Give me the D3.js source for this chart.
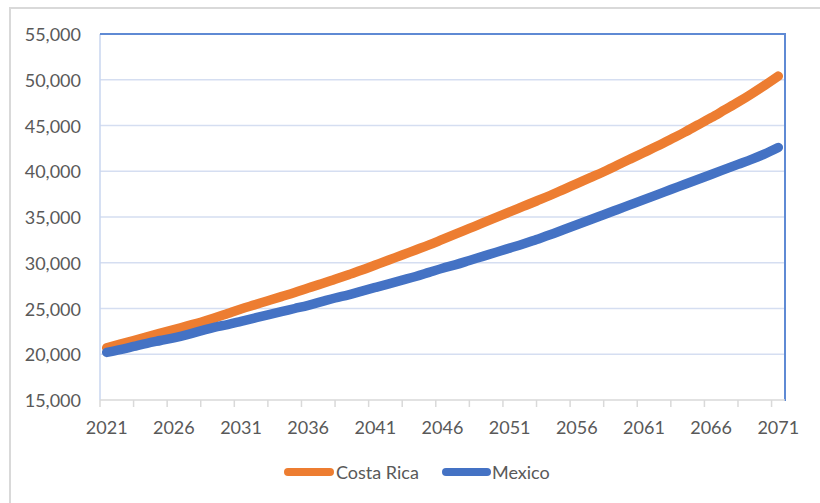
<!DOCTYPE html>
<html>
<head>
<meta charset="utf-8">
<script src="https://cdn.jsdelivr.net/npm/d3@7"></script>
<style>
  html, body { margin: 0; padding: 0; background: #ffffff; }
  svg { display: block; }
  text { font-family: Lato, "Open Sans", "Liberation Sans", sans-serif; fill: #595959; }
</style>
</head>
<body>
<svg id="chart" width="820" height="503"></svg>
<script>
// ---- data ----
const years = d3.range(2021, 2072);
const costaRica = [
  20700, 21100, 21500, 21900, 22300, 22700, 23100, 23500, 23950, 24450,
  24950, 25400, 25850, 26300, 26750, 27250, 27700, 28200, 28700, 29200,
  29750, 30300, 30850, 31400, 31950, 32550, 33150, 33750, 34350, 34950,
  35550, 36150, 36750, 37350, 38000, 38650, 39300, 39950, 40650, 41350,
  42050, 42750, 43500, 44250, 45050, 45850, 46700, 47550, 48450, 49400,
  50400
];
const mexico = [
  20200, 20500, 20850, 21200, 21500, 21800, 22150, 22550, 22950, 23250,
  23600, 23950, 24300, 24650, 25000, 25350, 25750, 26150, 26500, 26900,
  27300, 27700, 28100, 28500, 28950, 29400, 29800, 30250, 30700, 31150,
  31600, 32050, 32550, 33050, 33600, 34150, 34700, 35250, 35800, 36350,
  36900, 37450, 38000, 38550, 39100, 39650, 40200, 40750, 41300, 41900,
  42600
];
const yTicks = [15000, 20000, 25000, 30000, 35000, 40000, 45000, 50000, 55000];
const xLabelYears = [2021, 2026, 2031, 2036, 2041, 2046, 2051, 2056, 2061, 2066, 2071];
const seriesNames = ["Costa Rica", "Mexico"];
const seriesColors = ["#ED7D31", "#4472C4"];

// ---- layout ----
const pLeft = 100, pRight = 785, pTop = 34, pBottom = 400;
const svg = d3.select("#chart");

// outer chart border
svg.append("rect")
  .attr("x", 10).attr("y", 8).attr("width", 830).attr("height", 520)
  .attr("fill", "#fff").attr("stroke", "#d9d9d9").attr("stroke-width", 2);

const x = d3.scaleBand().domain(years).range([pLeft, pRight]).paddingInner(0).paddingOuter(0);
const bw = x.bandwidth();
const xc = d => x(d) + bw / 2;
const y = d3.scaleLinear().domain([15000, 55000]).range([pBottom, pTop]);

// gridlines
svg.append("g").selectAll("line")
  .data(yTicks.filter(t => t > 15000 && t < 55000))
  .join("line")
  .attr("x1", pLeft).attr("x2", pRight)
  .attr("y1", d => y(d)).attr("y2", d => y(d))
  .attr("stroke", "#d5def1").attr("stroke-width", 1.5);

// left axis line (light)
svg.append("line")
  .attr("x1", pLeft).attr("x2", pLeft).attr("y1", pTop).attr("y2", pBottom)
  .attr("stroke", "#c9d6ef").attr("stroke-width", 1.5);

// plot border top & right
svg.append("line")
  .attr("x1", pLeft).attr("x2", pRight + 1).attr("y1", pTop).attr("y2", pTop)
  .attr("stroke", "#5f8ad4").attr("stroke-width", 2);
svg.append("line")
  .attr("x1", pRight).attr("x2", pRight).attr("y1", pTop).attr("y2", pBottom + 1)
  .attr("stroke", "#5f8ad4").attr("stroke-width", 2);

// bottom axis line + ticks
svg.append("line")
  .attr("x1", pLeft).attr("x2", pRight).attr("y1", pBottom).attr("y2", pBottom)
  .attr("stroke", "#d9d9d9").attr("stroke-width", 1.5);
const tickPos = d3.range(0, 21).map(k => pLeft + k * 2.5 * bw).filter(p => p <= pRight - 2);
svg.append("g").selectAll("line")
  .data(tickPos).join("line")
  .attr("x1", d => d).attr("x2", d => d)
  .attr("y1", pBottom).attr("y2", pBottom + 7)
  .attr("stroke", "#d9d9d9").attr("stroke-width", 1.5);

// y labels
const fmt = d3.format(",");
svg.append("g").selectAll("text")
  .data(yTicks).join("text")
  .attr("x", 81).attr("y", d => y(d))
  .attr("text-anchor", "end").attr("dominant-baseline", "central")
  .attr("font-size", 18)
  .text(d => fmt(d));

// x labels
svg.append("g").selectAll("text")
  .data(xLabelYears).join("text")
  .attr("x", d => xc(d)).attr("y", 427)
  .attr("text-anchor", "middle").attr("dominant-baseline", "central")
  .attr("font-size", 18)
  .text(d => d);

// lines
const line = d3.line().x((d, i) => xc(years[i])).y(d => y(d)).curve(d3.curveMonotoneX);
[costaRica, mexico].forEach((s, i) => {
  svg.append("path")
    .attr("d", line(s))
    .attr("fill", "none")
    .attr("stroke", seriesColors[i])
    .attr("stroke-width", 9.5)
    .attr("stroke-linecap", "round")
    .attr("stroke-linejoin", "round");
});

// legend
const legendItems = [
  { name: seriesNames[0], color: seriesColors[0], x1: 288, x2: 330, tx: 336 },
  { name: seriesNames[1], color: seriesColors[1], x1: 446, x2: 487, tx: 492 }
];
const lg = svg.append("g");
legendItems.forEach(it => {
  lg.append("line")
    .attr("x1", it.x1).attr("x2", it.x2).attr("y1", 472).attr("y2", 472)
    .attr("stroke", it.color).attr("stroke-width", 8).attr("stroke-linecap", "round");
  lg.append("text")
    .attr("x", it.tx).attr("y", 472)
    .attr("dominant-baseline", "central").attr("font-size", 18)
    .text(it.name);
});
</script>
</body>
</html>
